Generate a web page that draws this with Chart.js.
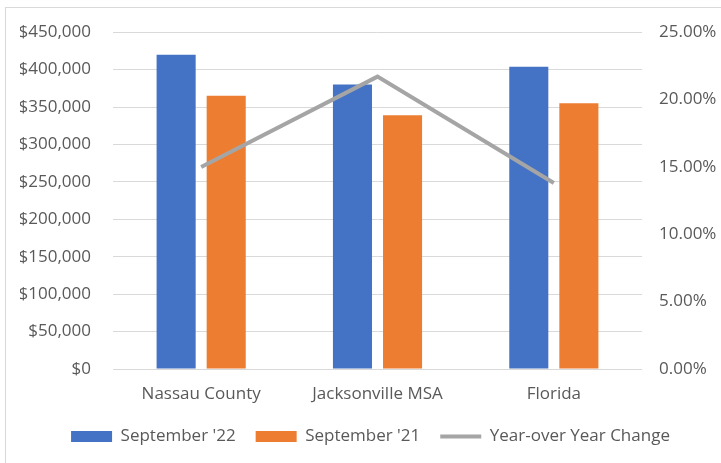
<!DOCTYPE html>
<html lang="en">
<head>
  <meta charset="UTF-8">
  <title>Median Sale Price</title>
  <script src="https://cdn.jsdelivr.net/npm/chart.js"></script>
  <style>
    html, body { margin: 0; padding: 0; background: #fff; overflow: hidden; }
    #frame { position: absolute; left: 5px; top: 7px; width: 800px; height: 600px; border: 1px solid #d9d9d9; }
    #wrap { position: absolute; left: 0; top: 0; width: 721px; height: 463px; }
  </style>
</head>
<body>
  <div id="frame"></div>
  <div id="wrap"><canvas id="chart"></canvas></div>

  <script>
    // values
    const categories = ['Nassau County', 'Jacksonville MSA', 'Florida'];
    const sept22 = [420000, 380000, 404000];
    const sept21 = [365000, 339000, 355000];
    const yoyChange = [15.0, 21.7, 13.8]; // percent
    const seriesNames = ["September '22", "September '21", 'Year-over Year Change'];

    const textColor = '#595959';
    const fontFamily = "'Open Sans', 'Noto Sans', sans-serif";

    function dollars(v) {
      return '$' + Number(v).toLocaleString('en-US');
    }

    new Chart(document.getElementById('chart'), {
      data: {
        labels: categories,
        datasets: [
          {
            type: 'line',
            label: seriesNames[2],
            data: yoyChange,
            yAxisID: 'y1',
            borderColor: '#a5a5a5',
            backgroundColor: '#a5a5a5',
            borderWidth: 4,
            pointRadius: 0,
            tension: 0,
            order: 0
          },
          {
            type: 'bar',
            label: seriesNames[0],
            data: sept22,
            yAxisID: 'y',
            backgroundColor: '#4472c4',
            categoryPercentage: 0.568,
            barPercentage: 0.78,
            order: 1
          },
          {
            type: 'bar',
            label: seriesNames[1],
            data: sept21,
            yAxisID: 'y',
            backgroundColor: '#ed7d31',
            categoryPercentage: 0.568,
            barPercentage: 0.78,
            order: 1
          }
        ]
      },
      options: {
        responsive: true,
        maintainAspectRatio: false,
        animation: false,
        layout: { padding: { top: 31, left: 20, right: 0, bottom: 8 } },
        scales: {
          x: {
            grid: { display: false, drawTicks: false },
            border: { display: false },
            ticks: { color: textColor, font: { family: fontFamily, size: 17 }, padding: 15 },
            afterFit: s => { s.height = 39; }
          },
          y: {
            position: 'left',
            min: 0,
            max: 450000,
            ticks: {
              stepSize: 50000,
              color: textColor,
              font: { family: fontFamily, size: 17 },
              padding: 22,
              callback: v => dollars(v)
            },
            grid: { color: '#d9d9d9', drawTicks: false },
            border: { display: false },
            afterFit: s => { s.width = 93; }
          },
          y1: {
            position: 'right',
            min: 0,
            max: 25,
            ticks: {
              stepSize: 5,
              color: textColor,
              font: { family: fontFamily, size: 17 },
              padding: 17,
              callback: v => Number(v).toFixed(2) + '%'
            },
            grid: { display: false, drawTicks: false },
            border: { display: false },
            afterFit: s => { s.width = 79; }
          }
        },
        plugins: {
          tooltip: { enabled: false },
          legend: {
            position: 'bottom',
            labels: {
              color: textColor,
              font: { family: fontFamily, size: 17 },
              usePointStyle: true,
              pointStyleWidth: 41,
              boxWidth: 41,
              boxHeight: 11,
              padding: 20,
              sort: (a, b) => {
                const order = [1, 2, 0];
                return order.indexOf(a.datasetIndex) - order.indexOf(b.datasetIndex);
              },
              generateLabels: chart => {
                const items = Chart.defaults.plugins.legend.labels.generateLabels(chart);
                items.forEach(it => {
                  if (it.datasetIndex === 0) {
                    it.pointStyle = 'line';
                    it.lineWidth = 4;
                    it.strokeStyle = '#a5a5a5';
                  } else {
                    it.pointStyle = 'rect';
                    it.lineWidth = 0;
                  }
                });
                return items;
              }
            }
          }
        }
      }
    });
  </script>
</body>
</html>
